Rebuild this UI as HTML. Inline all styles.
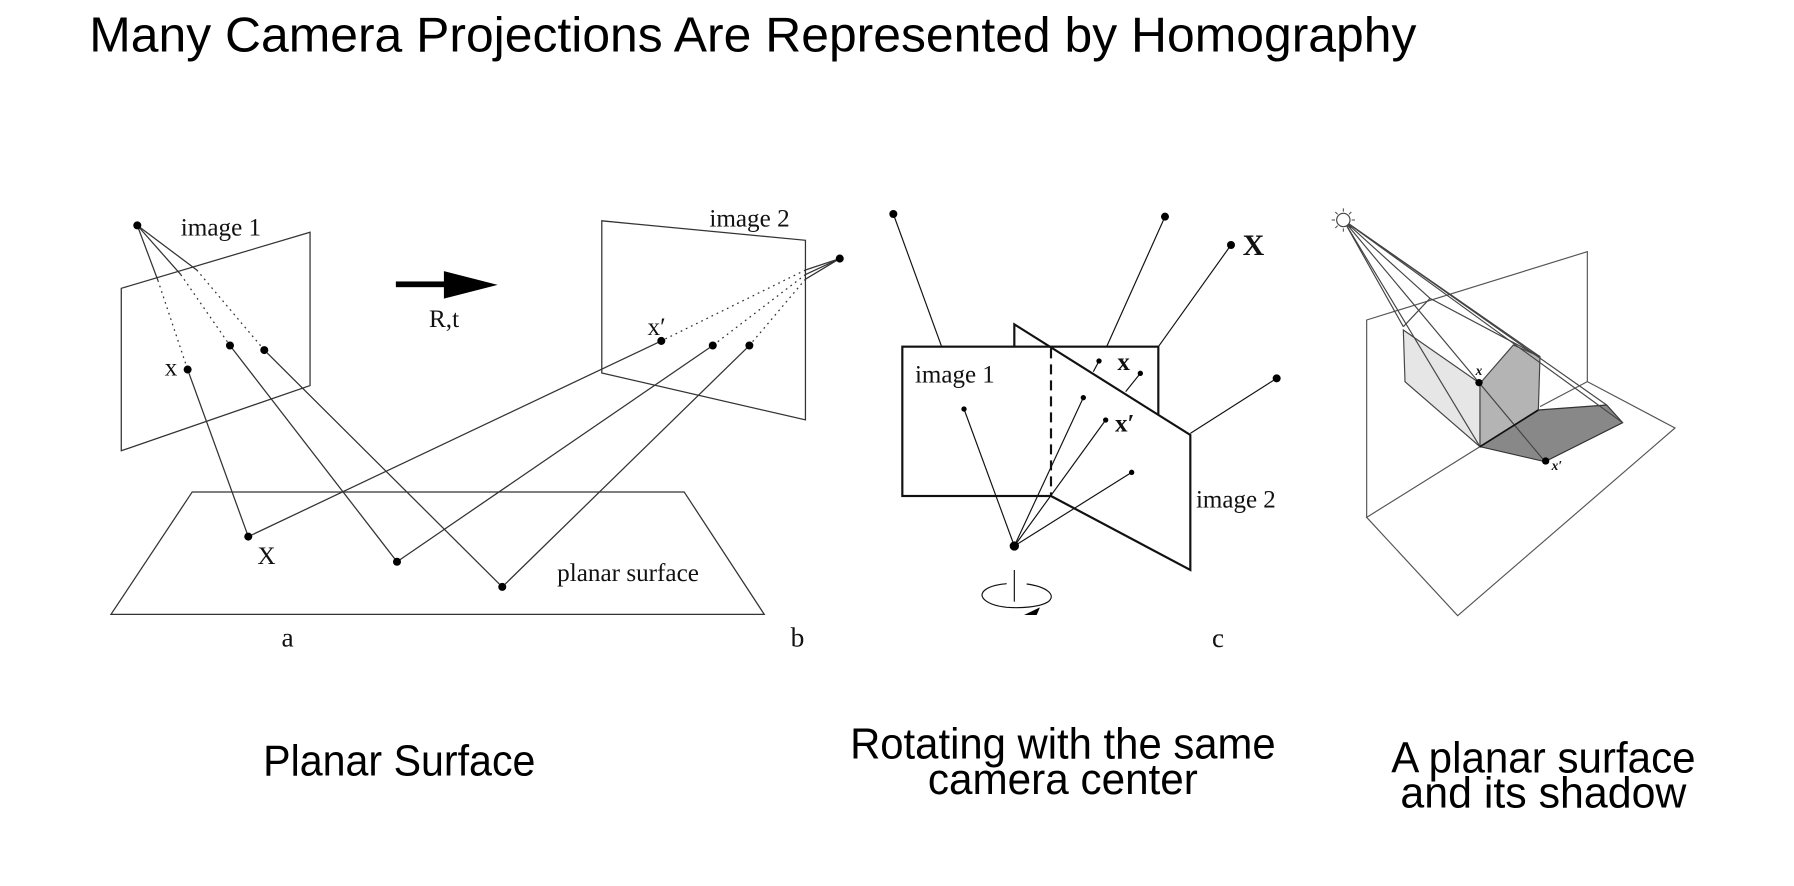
<!DOCTYPE html>
<html><head><meta charset="utf-8"><style>
html,body{margin:0;padding:0;background:#fff;width:1794px;height:886px;overflow:hidden}
svg{display:block}
.s{font-family:"Liberation Serif",serif;fill:#111}
.h{font-family:"Liberation Sans",sans-serif;fill:#000}
</style></head><body>
<svg width="1794" height="886" viewBox="0 0 1794 886" xmlns="http://www.w3.org/2000/svg">
<g transform="scale(1.1441)">
<text class="h" x="78" y="45" font-size="43" textLength="1160" lengthAdjust="spacingAndGlyphs">Many Camera Projections Are Represented by Homography</text>

<!-- panel a/b -->
<g stroke="#333" stroke-width="1.1" fill="none">
<polygon points="106,252 271,203 271,337 106,394"/>
<polygon points="168,430 598,430 668,537 97,537"/>
<polygon points="526,193 704,210 704,367 526,326"/>
<line x1="120" y1="197" x2="138" y2="245"/><line x1="120" y1="197" x2="158" y2="240"/><line x1="120" y1="197" x2="172" y2="236"/>
<g stroke-dasharray="1.5,3.5"><line x1="138" y1="245" x2="164" y2="323"/><line x1="158" y1="240" x2="201" y2="302"/><line x1="172" y1="236" x2="231" y2="306"/>
<line x1="704" y1="236" x2="578" y2="298"/><line x1="704" y1="240" x2="623" y2="302"/><line x1="704" y1="244" x2="655" y2="302"/></g>
<line x1="734" y1="226" x2="704" y2="236"/><line x1="734" y1="226" x2="704" y2="240"/><line x1="734" y1="226" x2="704" y2="244"/>
<line x1="164" y1="323" x2="217" y2="469"/><line x1="201" y1="302" x2="347" y2="491"/><line x1="231" y1="306" x2="439" y2="513"/>
<line x1="578" y1="298" x2="217" y2="469"/><line x1="623" y1="302" x2="347" y2="491"/><line x1="655" y1="302" x2="439" y2="513"/>
</g>
<g fill="#000"><circle cx="120" cy="197" r="3.5"/><circle cx="164" cy="323" r="3.5"/><circle cx="201" cy="302" r="3.5"/><circle cx="231" cy="306" r="3.5"/>
<circle cx="217" cy="469" r="3.5"/><circle cx="347" cy="491" r="3.5"/><circle cx="439" cy="513" r="3.5"/>
<circle cx="734" cy="226" r="3.5"/><circle cx="578" cy="298" r="3.5"/><circle cx="623" cy="302" r="3.5"/><circle cx="655" cy="302" r="3.5"/>
<rect x="346" y="246" width="45" height="5"/><polygon points="388,237 435,249 388,261"/></g>
<text class="s" x="158" y="206" font-size="22">image 1</text>
<text class="s" x="620" y="198" font-size="22">image 2</text>
<text class="s" x="375" y="286" font-size="22">R,t</text>
<text class="s" x="144" y="328" font-size="22">x</text>
<text class="s" x="566" y="293" font-size="22">x′</text>
<text class="s" x="225" y="493" font-size="22">X</text>
<text class="s" x="487" y="508" font-size="22">planar surface</text>
<text class="s" x="246" y="565" font-size="24">a</text>
<text class="s" x="691" y="565" font-size="24">b</text>

<text class="h" x="349" y="678" font-size="38" text-anchor="middle" textLength="238" lengthAdjust="spacingAndGlyphs">Planar Surface</text>
<text class="h" x="929" y="663" font-size="38" text-anchor="middle" textLength="372" lengthAdjust="spacingAndGlyphs">Rotating with the same</text>
<text class="h" x="929" y="694" font-size="38" text-anchor="middle" textLength="236" lengthAdjust="spacingAndGlyphs">camera center</text>
<text class="h" x="1349" y="675" font-size="38" text-anchor="middle" textLength="266" lengthAdjust="spacingAndGlyphs">A planar surface</text>
<text class="h" x="1349" y="706" font-size="38" text-anchor="middle" textLength="250" lengthAdjust="spacingAndGlyphs">and its shadow</text>
</g>

<!-- panel c (zoom coords) -->
<g transform="translate(880,200) scale(0.33333)">
<g stroke="#111" fill="none" stroke-width="3.5">
<line x1="40" y1="42" x2="185" y2="440"/><line x1="855" y1="50" x2="680" y2="440"/><line x1="1053" y1="135" x2="835" y2="440"/><line x1="1190" y1="535" x2="931" y2="700"/>
<line x1="657" y1="483" x2="640" y2="515"/><line x1="781" y1="520" x2="737" y2="575"/>
</g>
<rect x="67" y="440" width="768" height="448" stroke="#111" fill="none" stroke-width="6.5"/>
<polygon points="513,443 931,705 931,1110 513,888" fill="#fff"/>
<g stroke="#111" fill="none" stroke-width="6.5">
<polyline points="403,440 403,373 931,705 931,1110 513,888"/>
<line x1="513" y1="445" x2="513" y2="885" stroke-dasharray="30,18"/>
</g>
<g stroke="#111" fill="none" stroke-width="3.5">
<line x1="403" y1="1038" x2="252" y2="627"/><line x1="403" y1="1038" x2="610" y2="593"/><line x1="403" y1="1038" x2="677" y2="660"/><line x1="403" y1="1038" x2="755" y2="817"/>
<line x1="403" y1="1110" x2="403" y2="1205"/>
<path d="M440,1152 C500,1160 530,1185 505,1205 C480,1222 420,1225 380,1222 C320,1215 290,1190 315,1170 C330,1158 360,1152 380,1151"/>
</g>
<g fill="#000"><circle cx="40" cy="42" r="12"/><circle cx="855" cy="50" r="12"/><circle cx="1053" cy="135" r="12"/><circle cx="1190" cy="535" r="12"/>
<circle cx="403" cy="1038" r="14"/><circle cx="252" cy="627" r="8"/><circle cx="610" cy="593" r="8"/><circle cx="677" cy="660" r="8"/><circle cx="755" cy="817" r="8"/><circle cx="657" cy="483" r="8"/><circle cx="781" cy="520" r="8"/>
<polygon points="432,1245 480,1222 470,1245"/></g>
<text class="s" x="1088" y="165" font-size="90" font-weight="bold">X</text>
<text class="s" x="712" y="510" font-size="75" font-weight="bold">x</text>
<text class="s" x="705" y="695" font-size="75" font-weight="bold">x′</text>
<text class="s" x="105" y="548" font-size="75">image 1</text>
<text class="s" x="948" y="922" font-size="75">image 2</text>
</g>
<text class="s" x="1212" y="647" font-size="27">c</text>

<!-- panel d (zoom coords) -->
<g transform="translate(1300,190) scale(0.33333)">
<g stroke="#555" fill="none" stroke-width="3.5">
<polyline points="200,982 200,390 862,185 862,575"/>
<polyline points="540,770 200,982 473,1277 1125,714 862,575 720,650"/>
</g>
<polygon points="310,420 540,580 540,770 315,575" fill="#e6e6e6" stroke="#444" stroke-width="3.5"/>
<polygon points="540,580 640,465 720,500 715,660 540,770" fill="#b4b4b4" stroke="#444" stroke-width="3.5"/>
<polygon points="540,770 715,660 920,645 968,698 735,815" fill="#888" stroke="#333" stroke-width="3.5"/>
<g stroke="#444" fill="none" stroke-width="3.5">
<polyline points="310,410 390,325 720,500"/>
<line x1="130" y1="90" x2="310" y2="410"/><line x1="130" y1="90" x2="540" y2="770"/><line x1="130" y1="90" x2="735" y2="815"/>
<line x1="130" y1="90" x2="390" y2="325"/><line x1="130" y1="90" x2="920" y2="645"/><line x1="130" y1="90" x2="968" y2="698"/><line x1="130" y1="90" x2="720" y2="500"/>
<line x1="540" y1="770" x2="715" y2="660" stroke="#111" stroke-width="5"/>
<circle cx="130" cy="90" r="20" fill="#fff"/>
<g stroke-width="3"><line x1="130" y1="55" x2="130" y2="65"/><line x1="130" y1="115" x2="130" y2="125"/><line x1="95" y1="90" x2="105" y2="90"/><line x1="155" y1="90" x2="165" y2="90"/>
<line x1="106" y1="66" x2="113" y2="73"/><line x1="147" y1="107" x2="154" y2="114"/><line x1="106" y1="114" x2="113" y2="107"/><line x1="147" y1="73" x2="154" y2="66"/></g>
</g>
<circle cx="537" cy="578" r="11" fill="#000"/><circle cx="737" cy="813" r="11" fill="#000"/>
<text class="s" x="527" y="555" font-size="40" font-weight="bold" font-style="italic">x</text>
<text class="s" x="755" y="840" font-size="40" font-weight="bold" font-style="italic">x′</text>
</g>
</svg>
</body></html>
